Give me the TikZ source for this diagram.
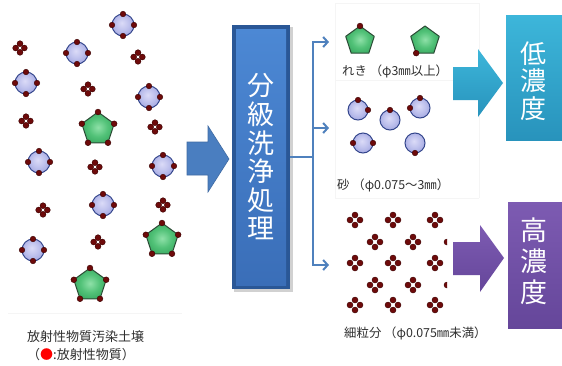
\documentclass[tikz,border=0pt]{standalone}
\usepackage{fontspec}
\newfontfamily\jp{Noto Sans CJK JP}
\usetikzlibrary{arrows.meta}

\definecolor{dotred}{HTML}{6E0A0A}
\definecolor{dotedge}{HTML}{3A0000}
\definecolor{sandedge}{HTML}{34468C}
\definecolor{gravedge}{HTML}{2C4C36}
\definecolor{flowblue}{HTML}{4F81BD}
\definecolor{arrowblue}{HTML}{4A7EC0}
\definecolor{boxtop}{HTML}{4C88D4}
\definecolor{boxbot}{HTML}{3A6EB8}
\definecolor{boxrim}{HTML}{2A5796}
\definecolor{tealtop}{HTML}{3DB6DA}
\definecolor{tealbot}{HTML}{2893BC}
\definecolor{purptop}{HTML}{7D5BB2}
\definecolor{purpbot}{HTML}{65469A}
\definecolor{txt}{HTML}{303030}

% glossy fills for the grains
\pgfdeclareradialshading{sandshade}{\pgfpoint{-3bp}{5bp}}{%
  rgb(0bp)=(0.86,0.86,0.97); rgb(15bp)=(0.75,0.76,0.93);
  rgb(35bp)=(0.59,0.61,0.86); rgb(50bp)=(0.48,0.50,0.80)}
\pgfdeclareradialshading{gravshade}{\pgfpoint{0bp}{0bp}}{%
  rgb(0bp)=(0.56,0.88,0.66); rgb(15bp)=(0.32,0.76,0.47);
  rgb(35bp)=(0.17,0.61,0.33); rgb(50bp)=(0.12,0.52,0.27)}

% a fine particle: four radioactive dots in a diamond
\newcommand\fines[3][4.3]{%
  \begin{scope}[shift={(#2,#3)}]
    \foreach \a in {0,90,180,270}
      \fill[dotred,draw=dotedge,line width=0.4pt] (\a:#1) circle (3pt);
  \end{scope}}
% a sand grain with radioactive dots at the given angles
\newcommand\grain[4][10.5]{%
  \begin{scope}[shift={(#2,#3)}]
    \shade[shading=sandshade] (0,0) circle (#1pt);
    \draw[sandedge,line width=1pt] (0,0) circle (#1pt);
    \foreach \a in {#4}
      \fill[dotred,draw=dotedge,line width=0.4pt] (\a:#1) circle (2.8pt);
  \end{scope}}
% a gravel pebble (pentagon) with radioactive dots at the given vertices
\newcommand\pebble[4][17]{%
  \begin{scope}[shift={(#2,#3)}]
    \shadedraw[shading=gravshade,draw=gravedge,line width=1pt,line join=round]
      (270:#1) -- (342:#1) -- (54:#1) -- (126:#1) -- (198:#1) -- cycle;
    \foreach \a in {#4}
      \fill[dotred,draw=dotedge,line width=0.4pt] (\a:#1) circle (2.9pt);
  \end{scope}}

\tikzset{
  boxtext/.style={text=white,align=center,inner sep=0pt},
  label/.style={text=txt,anchor=west,inner sep=0pt,font=\jp\fontsize{12.4}{14}\selectfont},
  flow/.style={draw=flowblue,line width=2pt,line join=miter,-{Straight Barb[length=4.5pt,width=10pt]}},
  trunk/.style={draw=flowblue,line width=2pt},
  panel/.style={draw=black!4,line width=0.8pt},
}

\begin{document}
\begin{tikzpicture}[x=1pt,y=-1pt]
\useasboundingbox (0,0) rectangle (562,365);
\fill[white] (0,0) rectangle (562,365);

% ---------- contaminated soil ----------
\draw[panel] (8,313) -- (182,313);
\fines{20}{48}  \fines{138}{57} \fines{88}{89}  \fines{26}{121}
\fines{155}{127} \fines{95}{167} \fines{43}{210} \fines{163}{205}
\fines{98}{242}
\grain[11]{123}{25}{0,90,180,270}
\grain[11]{77}{53}{0,90,180,270}
\grain[11]{26}{83}{0,90,180,270}
\grain[11]{149}{97}{0,90,180,270}
\grain[11]{39}{162}{0,90,180,270}
\grain[11]{163}{166}{0,90,180,270}
\grain[11]{103}{205}{0,90,180,270}
\grain[11]{33}{250}{0,90,180,270}
\pebble{98}{129}{270,342,54,126,198}
\pebble{162}{240}{270,342,54,126,198}
\pebble{90}{285}{270,342,54,126,198}

\node[anchor=west,inner sep=0pt,text=txt,font=\jp\fontsize{13}{18}\selectfont] (soil) at (27,337) {放射性物質汚染土壌};
\node[anchor=west,inner sep=0pt,text=txt,font=\jp\fontsize{13}{18}\selectfont] (key) at (27,355) {（{\color{red}●}:放射性物質）};

% ---------- feed arrow ----------
\fill[arrowblue,draw=arrowblue!85!black,line width=0.6pt]
  (187,142) -- (208,142) -- (208,126) -- (229,159) -- (208,192) -- (208,175) -- (187,175) -- cycle;

% ---------- washing process box ----------
\fill[black!18] (234,27) rectangle (293,292);
\fill[boxrim] (232,25) rectangle (290,289);
\shade[top color=boxtop,bottom color=boxbot] (236,29) rectangle (286,285);
\node[boxtext,font=\jp\fontsize{27}{28.6}\selectfont,minimum width=58pt,minimum height=264pt]
  (proc) at (261,157) {分\\級\\洗\\浄\\処\\理};

% ---------- output panels ----------
\draw[panel] (335,3) -- (479,3) -- (479,198);
\draw[panel] (335,3) -- (335,198);
\draw[panel] (335,80) -- (479,80);
\draw[panel] (335,198) -- (479,198);

% gravel
\pebble[15]{360}{41}{270}
\pebble[15]{425}{41}{126}
\node[label] (gravel) at (342,71) {れき （φ3㎜以上）};

% sand
\grain[10]{358}{110}{270,0}
\grain[10]{390}{120}{270}
\grain[10]{420}{108}{270,180}
\grain[10]{363}{143}{180,0}
\grain[10]{415}{143}{90}
\node[label] (sand) at (337,185) {砂 （φ0.075～3㎜）};

% fines
\begin{scope}
  \clip (338,208) rectangle (447,320);
  \foreach \y in {220,263,305}
    \foreach \x in {355,393,435} \fines[5]{\x}{\y};
  \foreach \y in {199,242,285}
    \foreach \x in {375,413,452} \fines[5]{\x}{\y};
\end{scope}
\node[label] (fine) at (344,333) {細粒分 （φ0.075㎜未満）};

% ---------- splitting connector ----------
\coordinate (split) at (313,157);
\coordinate (gin) at (329,42);
\coordinate (sin) at (329,128);
\coordinate (fin) at (329,265);
\draw[trunk] (proc.east) -- (split);
\draw[flow] (split) |- (gin);
\draw[flow] (split) |- (sin);
\draw[flow] (split) |- (fin);

% ---------- result arrows and boxes ----------
\shade[top color=tealtop,bottom color=tealbot]
  (453,67) -- (478,67) -- (478,49) -- (503,83) -- (478,117) -- (478,100) -- (453,100) -- cycle;
\shade[top color=tealtop,bottom color=tealbot] (506,15) rectangle (562,140);
\node[boxtext,font=\jp\fontsize{26}{27.5}\selectfont] (low) at (533,81) {低\\濃\\度};

\shade[top color=purptop,bottom color=purpbot]
  (453,242) -- (480,242) -- (480,225) -- (504,258) -- (480,292) -- (480,275) -- (453,275) -- cycle;
\shade[top color=purptop,bottom color=purpbot] (508,202) rectangle (562,328);
\node[boxtext,font=\jp\fontsize{27}{31}\selectfont] (high) at (534,261) {高\\濃\\度};
\end{tikzpicture}
\end{document}
